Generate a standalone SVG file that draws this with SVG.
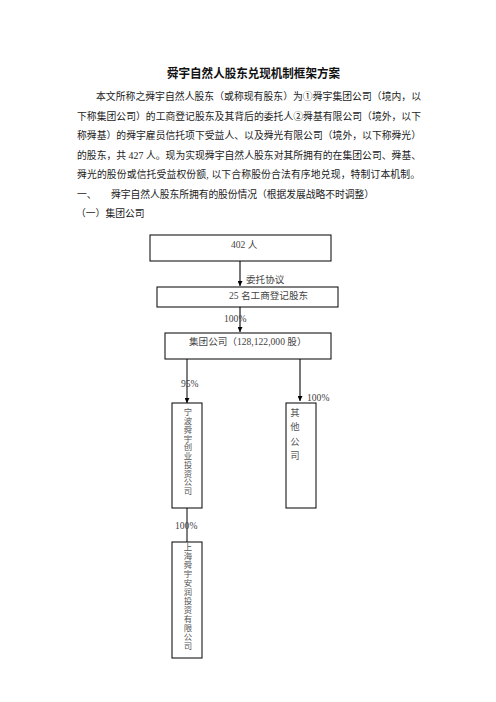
<svg xmlns="http://www.w3.org/2000/svg" width="496" height="702" viewBox="0 0 496 702">
<defs>
<style>
.t{font-family:"Liberation Serif","Noto Sans CJK SC",serif;font-size:9.8px;fill:#1a1a1a}
.h{font-family:"Noto Sans CJK SC",sans-serif;font-size:12.4px;font-weight:bold;fill:#111}
.b{font-family:"Liberation Serif","Noto Sans CJK SC",serif;font-size:9.6px;fill:#444}
.v{font-family:"Noto Sans CJK SC",sans-serif;font-size:8.4px;fill:#555;writing-mode:vertical-rl;text-orientation:upright}
.box{fill:#fff;stroke:#000;stroke-width:1}
.g{stroke:#777;stroke-width:2;fill:none}
.k{stroke:#000;stroke-width:1;fill:none}
</style>
<marker id="ah" viewBox="0 0 10 10" refX="10" refY="5" markerWidth="5" markerHeight="5" markerUnits="userSpaceOnUse" orient="auto">
<path d="M0,0 L10,5 L0,10 z" fill="#000"/>
</marker>
</defs>
<rect width="496" height="702" fill="#fff"/>
<text class="h" x="167" y="78" textLength="173" lengthAdjust="spacingAndGlyphs">舜宇自然人股东兑现机制框架方案</text>
<text class="t" x="96" y="100" textLength="325" lengthAdjust="spacing">本文所称之舜宇自然人股东（或称现有股东）为①舜宇集团公司（境内，以</text>
<text class="t" x="77" y="119.5" textLength="344" lengthAdjust="spacing">下称集团公司）的工商登记股东及其背后的委托人②舜基有限公司（境外，以下</text>
<text class="t" x="77" y="139" textLength="344" lengthAdjust="spacing">称舜基）的舜宇雇员信托项下受益人、以及舜光有限公司（境外，以下称舜光）</text>
<text class="t" x="77" y="158.5" textLength="344" lengthAdjust="spacing">的股东，共 427 人。现为实现舜宇自然人股东对其所拥有的在集团公司、舜基、</text>
<text class="t" x="77" y="178" textLength="343" lengthAdjust="spacing">舜光的股份或信托受益权份额, 以下合称股份合法有序地兑现，特制订本机制。</text>
<text class="t" x="77" y="197.5">一、</text>
<text class="t" x="111" y="197.5" textLength="263" lengthAdjust="spacing">舜宇自然人股东所拥有的股份情况（根据发展战略不时调整）</text>
<text class="t" x="76" y="217">（一）集团公司</text>

<g id="connectors">
<line class="g" x1="240" y1="261" x2="240" y2="286" marker-end="url(#ah)"/>
<line class="g" x1="240" y1="307" x2="240" y2="332" marker-end="url(#ah)"/>
<line class="k" x1="187" y1="359" x2="187" y2="403" marker-end="url(#ah)"/>
<line class="g" x1="300" y1="359" x2="300" y2="401" marker-end="url(#ah)"/>
<line class="k" x1="187" y1="508" x2="187" y2="542"/>
<text class="b" x="246" y="283">委托协议</text>
<text class="b" x="224" y="322">100%</text>
<text class="b" x="181" y="387">95%</text>
<text class="b" x="307" y="401">100%</text>
<text class="b" x="175" y="529">100%</text>
</g>

<g id="n402">
<rect class="box" x="150" y="235" width="181" height="26"/>
<text class="b" x="231" y="248">402 人</text>
</g>
<g id="n25">
<rect class="box" x="157" y="287" width="181" height="20"/>
<text class="b" x="229" y="299">25 名工商登记股东</text>
</g>
<g id="group">
<rect class="box" x="165" y="333" width="166" height="26"/>
<text class="b" x="189" y="345">集团公司（128,122,000 股）</text>
</g>
<g id="ningbo">
<rect class="box" x="172" y="403" width="30" height="105"/>
<text class="v" x="188" y="408" textLength="87" lengthAdjust="spacing">宁波舜宇创业投资公司</text>
</g>
<g id="other">
<rect class="box" x="286" y="403" width="30" height="105"/>
<text class="v" x="295" y="408" textLength="52" lengthAdjust="spacing" style="font-size:9.4px">其他公司</text>
</g>
<g id="shanghai">
<rect class="box" x="172" y="542" width="30" height="116"/>
<text class="v" x="188" y="543" textLength="107" lengthAdjust="spacing">上海舜宇安润投资有限公司</text>
</g>
</svg>
